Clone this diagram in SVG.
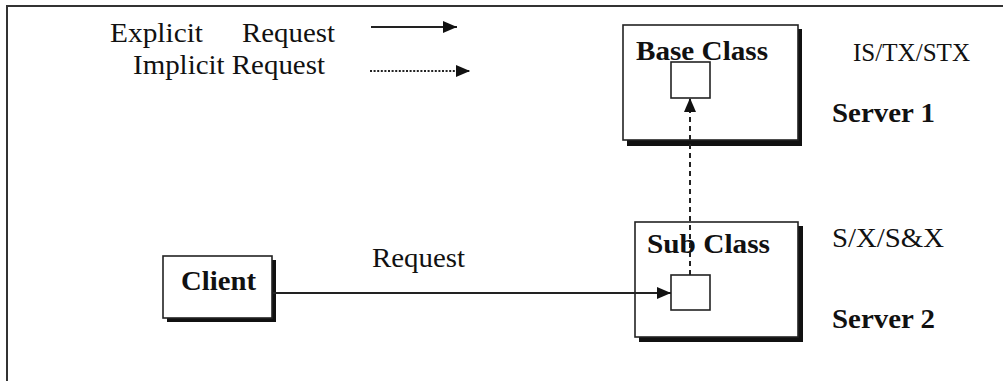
<svg xmlns="http://www.w3.org/2000/svg" width="1003" height="381" viewBox="0 0 1003 381">
<defs>
<style>
.t{font-family:"Liberation Serif","Times New Roman",serif;fill:#111;}
.b{font-weight:bold;}
.box{fill:#fff;stroke:#222;stroke-width:1.6;}
.sh{fill:#111;}
.ln{stroke:#222;stroke-width:2;fill:none;}
</style>
<marker id="ah" viewBox="0 0 14 12" refX="14" refY="6" markerWidth="14" markerHeight="12" markerUnits="userSpaceOnUse" orient="auto">
<path d="M0,0 L14,6 L0,12 Z" fill="#111"/>
</marker>
</defs>
<rect width="1003" height="381" fill="#fff"/>
<path d="M7,390 L7,6 L1010,6" fill="none" stroke="#333" stroke-width="2"/>
<g id="legend">
<text class="t" x="110" y="42" font-size="27" textLength="93" lengthAdjust="spacingAndGlyphs">Explicit</text>
<text class="t" x="242" y="42" font-size="27" textLength="93" lengthAdjust="spacingAndGlyphs">Request</text>
<text class="t" x="133" y="74" font-size="28" textLength="192" lengthAdjust="spacingAndGlyphs">Implicit Request</text>
<line class="ln" x1="371" y1="27" x2="457" y2="27" stroke-width="2.5" marker-end="url(#ah)"/>
<line class="ln" x1="370" y1="71" x2="470" y2="71" stroke-width="3" stroke-dasharray="2,1.6" marker-end="url(#ah)"/>
</g>
<g id="base-class">
<rect class="sh" x="627" y="29" width="175" height="117"/>
<rect class="box" x="623" y="25" width="175" height="115"/>
<text class="t b" x="636" y="60" font-size="28" textLength="132" lengthAdjust="spacingAndGlyphs">Base Class</text>
<rect class="box" x="671" y="62" width="39" height="36"/>
</g>
<g id="server1-labels">
<text class="t" x="853" y="61" font-size="26" textLength="117" lengthAdjust="spacingAndGlyphs">IS/TX/STX</text>
<text class="t b" x="832" y="122" font-size="28" textLength="103" lengthAdjust="spacingAndGlyphs">Server 1</text>
</g>
<g id="sub-class">
<rect class="sh" x="639" y="226" width="164" height="116"/>
<rect class="box" x="635" y="222" width="163" height="115"/>
<text class="t b" x="647" y="253" font-size="28" textLength="123" lengthAdjust="spacingAndGlyphs">Sub Class</text>
<rect class="box" x="671" y="275" width="39" height="35"/>
</g>
<g id="server2-labels">
<text class="t" x="832" y="247" font-size="28" textLength="112" lengthAdjust="spacingAndGlyphs">S/X/S&amp;X</text>
<text class="t b" x="832" y="328" font-size="28" textLength="103" lengthAdjust="spacingAndGlyphs">Server 2</text>
</g>
<g id="client">
<rect class="sh" x="167" y="260" width="109" height="62"/>
<rect class="box" x="163" y="256" width="109" height="62"/>
<text class="t b" x="181" y="290" font-size="28" textLength="75" lengthAdjust="spacingAndGlyphs">Client</text>
</g>
<g id="connectors">
<line class="ln" x1="273" y1="293" x2="671" y2="293" marker-end="url(#ah)"/>
<text class="t" x="372" y="267" font-size="28" textLength="93" lengthAdjust="spacingAndGlyphs">Request</text>
<line class="ln" x1="690" y1="275" x2="690" y2="98" stroke-width="2.5" stroke-dasharray="5,4" marker-end="url(#ah)"/>
</g>
</svg>
